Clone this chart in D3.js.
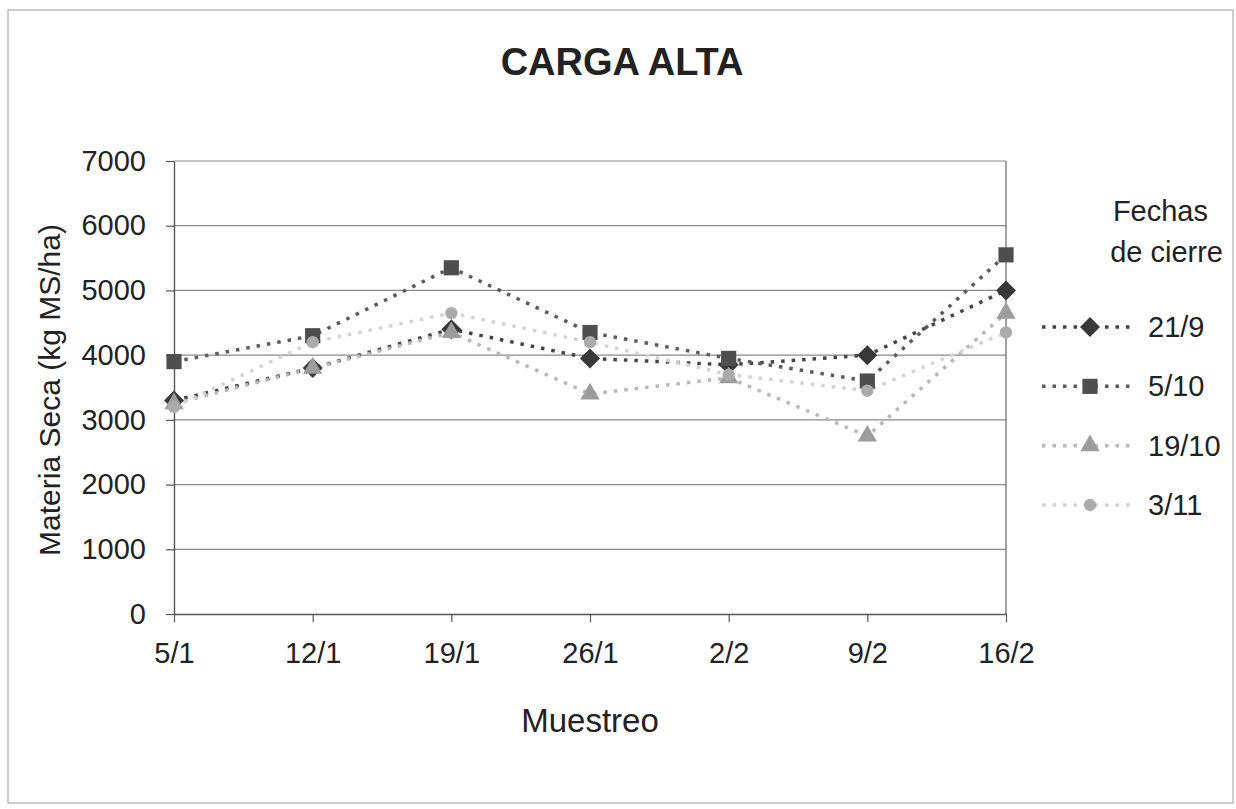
<!DOCTYPE html>
<html>
<head>
<meta charset="utf-8">
<script src="https://cdn.jsdelivr.net/npm/d3@7"></script>
<style>
    body { margin: 0; background: #fff; }
    text { font-family: Arial, "Liberation Sans", sans-serif; fill: #222; }
</style>
</head>
<body>
<div class="canvas"></div>
<script>
// Chart data
const fechasMuestreo = ['5/1', '12/1', '19/1', '26/1', '2/2', '9/2', '16/2'];
const yTicks = [0, 1000, 2000, 3000, 4000, 5000, 6000, 7000];
const cierre21_9 = [3300, 3800, 4400, 3950, 3850, 4000, 5000];
const cierre5_10 = [3900, 4300, 5350, 4350, 3950, 3600, 5550];
const cierre19_10 = [3250, 3800, 4350, 3400, 3650, 2750, 4650];
const cierre3_11 = [3200, 4200, 4650, 4200, 3700, 3450, 4350];
const seriesNames = ['21/9', '5/10', '19/10', '3/11'];

// Excel style diamond: a square turned 45 degrees
const symbolDiamondWide = {
    draw: function(context, size) {
        const r = Math.sqrt(size / 2);
        context.moveTo(0, -r);
        context.lineTo(r, 0);
        context.lineTo(0, r);
        context.lineTo(-r, 0);
        context.closePath();
    }
};

const series = [
    { name: seriesNames[0], values: cierre21_9, shape: symbolDiamondWide, size: 200, fill: '#383838', line: '#444' },
    { name: seriesNames[1], values: cierre5_10, shape: d3.symbolSquare, size: 230, fill: '#4e4e4e', line: '#5c5c5c' },
    { name: seriesNames[2], values: cierre19_10, shape: d3.symbolTriangle, size: 160, fill: '#9c9c9c', line: '#b8b8b8' },
    { name: seriesNames[3], values: cierre3_11, shape: d3.symbolCircle, size: 120, fill: '#ababab', line: '#d4d4d4' }
];

// Dimensions
const width = 1236, height = 809;
const plot = { left: 174, right: 1006, top: 161, bottom: 614 };

const svg = d3.select('.canvas')
    .append('svg')
    .attr('width', width)
    .attr('height', height);

// Outer chart frame
svg.append('rect')
    .attr('x', 8).attr('y', 10)
    .attr('width', 1225).attr('height', 793)
    .attr('fill', 'none')
    .attr('stroke', '#9a9a9a')
    .attr('stroke-width', 1);

// Scales
const x = d3.scalePoint()
    .domain(fechasMuestreo)
    .range([plot.left, plot.right]);

const y = d3.scaleLinear()
    .domain([0, 7000])
    .range([plot.bottom, plot.top]);

// Gridlines
svg.append('g')
    .selectAll('line')
    .data(yTicks.filter(d => d > 0))
    .enter()
    .append('line')
        .attr('x1', plot.left)
        .attr('x2', plot.right)
        .attr('y1', d => y(d))
        .attr('y2', d => y(d))
        .attr('stroke', '#8a8a8a')
        .attr('stroke-width', 1.2);

// Right border of plot area
svg.append('line')
    .attr('x1', plot.right).attr('x2', plot.right)
    .attr('y1', plot.top).attr('y2', plot.bottom)
    .attr('stroke', '#666')
    .attr('stroke-width', 1.2);

// Y axis
const yAxis = svg.append('g')
    .attr('transform', `translate(${plot.left}, 0)`)
    .call(d3.axisLeft(y)
        .tickValues(yTicks)
        .tickFormat(d3.format('d'))
        .tickSize(8)
        .tickPadding(20)
        .tickSizeOuter(0));

// X axis
const xAxis = svg.append('g')
    .attr('transform', `translate(0, ${plot.bottom})`)
    .call(d3.axisBottom(x).tickSize(8).tickPadding(20).tickSizeOuter(0));

[xAxis, yAxis].forEach(axis => {
    axis.select('.domain').attr('stroke', '#555').attr('stroke-width', 1.4);
    axis.selectAll('.tick line').attr('stroke', '#555').attr('stroke-width', 1.2);
    axis.selectAll('.tick text')
        .attr('font-size', 29)
        .attr('fill', '#222');
});

// Lines and markers
const line = d3.line()
    .x((d, i) => x(fechasMuestreo[i]))
    .y(d => y(d));

series.forEach(s => {
    svg.append('path')
        .datum(s.values)
        .attr('d', line)
        .attr('fill', 'none')
        .attr('stroke', s.line)
        .attr('stroke-width', 3.5)
        .attr('stroke-dasharray', '3.5 7');
});

series.forEach(s => {
    svg.append('g')
        .selectAll('path')
        .data(s.values)
        .enter()
        .append('path')
            .attr('d', d3.symbol().type(s.shape).size(s.size))
            .attr('transform', (d, i) => `translate(${x(fechasMuestreo[i])}, ${y(d)})`)
            .attr('fill', s.fill);
});

// Titles
svg.append('text')
    .attr('x', 622).attr('y', 75)
    .attr('text-anchor', 'middle')
    .attr('font-size', 38)
    .attr('font-weight', 'bold')
    .text('CARGA ALTA');

svg.append('text')
    .attr('x', 590).attr('y', 732)
    .attr('text-anchor', 'middle')
    .attr('font-size', 33)
    .text('Muestreo');

svg.append('text')
    .attr('transform', 'translate(60, 390) rotate(-90)')
    .attr('text-anchor', 'middle')
    .attr('font-size', 30)
    .text('Materia Seca (kg MS/ha)');

// Legend
const legend = svg.append('g');

legend.append('text')
    .attr('x', 1208).attr('y', 221)
    .attr('text-anchor', 'end')
    .attr('font-size', 29)
    .text('Fechas');

legend.append('text')
    .attr('x', 1223).attr('y', 262)
    .attr('text-anchor', 'end')
    .attr('font-size', 29)
    .text('de cierre');

const legendY = d3.scalePoint()
    .domain(seriesNames)
    .range([327, 505]);

const entries = legend.selectAll('.entry')
    .data(series)
    .enter()
    .append('g')
        .attr('class', 'entry')
        .attr('transform', d => `translate(0, ${legendY(d.name)})`);

entries.append('line')
    .attr('x1', 1042).attr('x2', 1134)
    .attr('stroke', d => d.line)
    .attr('stroke-width', 3.5)
    .attr('stroke-dasharray', '3.5 7');

entries.append('path')
    .attr('d', d => d3.symbol().type(d.shape).size(d.size)())
    .attr('transform', 'translate(1090, 0)')
    .attr('fill', d => d.fill);

entries.append('text')
    .attr('x', 1148).attr('y', 10)
    .attr('font-size', 29)
    .text(d => d.name);
</script>
</body>
</html>
